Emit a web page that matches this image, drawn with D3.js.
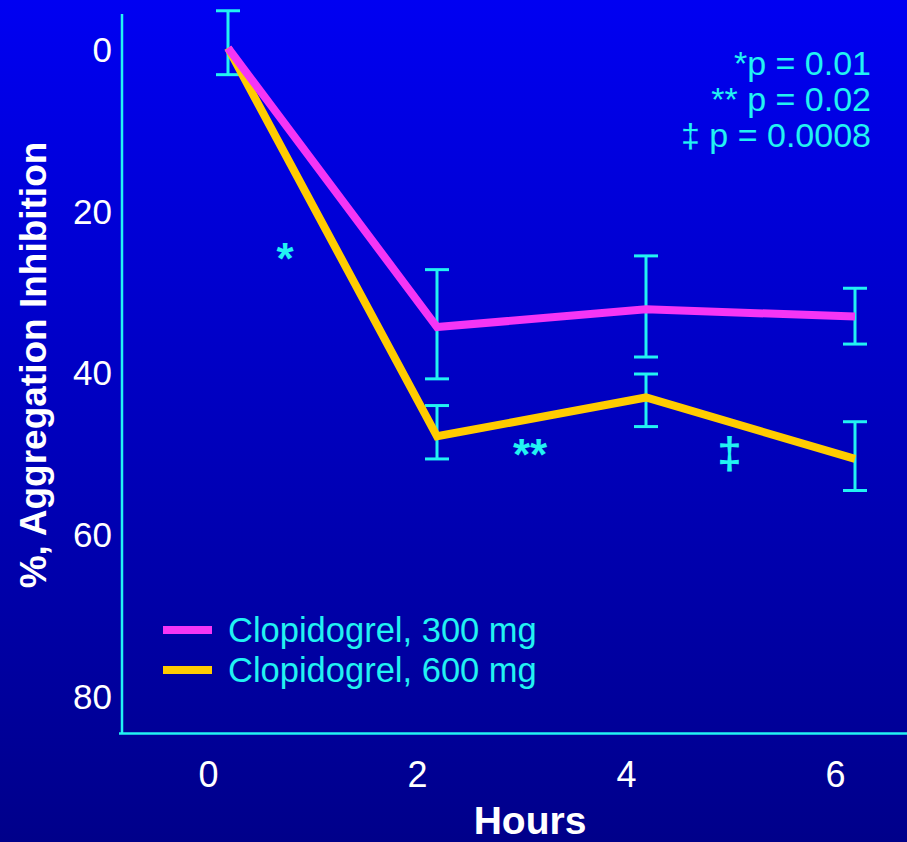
<!DOCTYPE html>
<html>
<head>
<meta charset="utf-8">
<script src="https://cdn.jsdelivr.net/npm/d3@7"></script>
<style>
  html, body { margin: 0; padding: 0; background: #00008c; }
  svg { display: block; font-family: "Liberation Sans", Arial, sans-serif; }
</style>
</head>
<body>
<svg id="chart" width="907" height="842"></svg>
<script>
// ---- data ----
const hours = [0, 2, 4, 6];
const dose300 = [0, 34.5, 32.3, 33.2];
const dose300Low = [-4.6, 27.4, 25.7, 29.7];
const dose300High = [3.3, 40.9, 38.2, 36.6];
const dose600 = [0, 48.0, 43.2, 50.8];
const dose600Low = [null, 44.2, 40.3, 46.2];
const dose600High = [null, 50.8, 46.8, 54.7];
const xTicks = [0, 2, 4, 6];
const yTicks = [0, 20, 40, 60, 80];
const seriesNames = ["Clopidogrel, 300 mg", "Clopidogrel, 600 mg"];
const pNotes = ["*p = 0.01", "** p = 0.02", "\u2021 p = 0.0008"];
const sigMarks = [{h: 0.545, v: 27.9, t: "*"}, {h: 2.89, v: 52.2, t: "**"}, {h: 4.80, v: 51.9, t: "\u2021"}];

const svg = d3.select("#chart");
const W = 907, H = 842;

// background gradient
const defs = svg.append("defs");
const grad = defs.append("linearGradient").attr("id", "bg").attr("x1", 0).attr("y1", 0).attr("x2", 0).attr("y2", 1);
grad.append("stop").attr("offset", "0%").attr("stop-color", "#0000f2");
grad.append("stop").attr("offset", "100%").attr("stop-color", "#00008a");
svg.append("rect").attr("width", W).attr("height", H).attr("fill", "url(#bg)");

const cyan = "#22f2f2";
const pink = "#f535f5";
const gold = "#ffcc00";

const x = d3.scaleLinear().domain([0, 6]).range([228, 855]);
const y = d3.scaleLinear().domain([-4.2, 84.8]).range([14, 734]);

// axes lines
svg.append("line").attr("x1", 122).attr("x2", 122).attr("y1", y(-4.2)).attr("y2", y(84.8))
  .attr("stroke", cyan).attr("stroke-width", 2.5);
svg.append("line").attr("x1", 119).attr("x2", W).attr("y1", 733.5).attr("y2", 733.5)
  .attr("stroke", cyan).attr("stroke-width", 2.5);

// y axis ticks
const yAxis = svg.append("g").attr("transform", "translate(122,0)")
  .call(d3.axisLeft(y).tickValues(yTicks).tickSize(0).tickPadding(10).tickFormat(d3.format("d")));
yAxis.select(".domain").remove();
yAxis.selectAll("text").attr("fill", "#ffffff").attr("font-size", 35)
  .attr("font-family", "Liberation Sans, Arial, sans-serif").attr("dy", "0.38em");

// x axis ticks
const xAxis = svg.append("g").attr("transform", "translate(0,733)")
  .call(d3.axisBottom(x).tickValues(xTicks).tickSize(0).tickPadding(28).tickFormat(d3.format("d")));
xAxis.select(".domain").remove();
xAxis.selectAll("text").attr("fill", "#ffffff").attr("font-size", 36)
  .attr("font-family", "Liberation Sans, Arial, sans-serif").attr("dx", -20);

// axis titles
svg.append("text").attr("x", 530).attr("y", 834).attr("text-anchor", "middle")
  .attr("fill", "#ffffff").attr("font-weight", "bold").attr("font-size", 39).text("Hours");
svg.append("text").attr("transform", "translate(46,365) rotate(-90)").attr("text-anchor", "middle")
  .attr("fill", "#ffffff").attr("font-weight", "bold").attr("font-size", 37).text("%, Aggregation Inhibition");

// error bars
function errBars(lo, hi) {
  const g = svg.append("g").attr("stroke", cyan).attr("stroke-width", 3).attr("fill", "none");
  hours.forEach((h, i) => {
    if (lo[i] == null) return;
    const cx = x(h);
    g.append("line").attr("x1", cx).attr("x2", cx).attr("y1", y(lo[i])).attr("y2", y(hi[i]));
    g.append("line").attr("x1", cx - 12).attr("x2", cx + 12).attr("y1", y(lo[i])).attr("y2", y(lo[i]));
    g.append("line").attr("x1", cx - 12).attr("x2", cx + 12).attr("y1", y(hi[i])).attr("y2", y(hi[i]));
  });
}
errBars(dose300Low, dose300High);
errBars(dose600Low, dose600High);

// lines
const line = d3.line().x((d, i) => x(hours[i])).y(d => y(d));
svg.append("path").datum(dose600).attr("d", line).attr("fill", "none")
  .attr("stroke", gold).attr("stroke-width", 8).attr("stroke-linejoin", "miter");
svg.append("path").datum(dose300).attr("d", line).attr("fill", "none")
  .attr("stroke", pink).attr("stroke-width", 8).attr("stroke-linejoin", "miter");

// significance marks
svg.selectAll(".sig").data(sigMarks).enter().append("text")
  .attr("x", d => x(d.h)).attr("y", d => y(d.v)).attr("text-anchor", "middle")
  .attr("fill", cyan).attr("font-weight", "bold").attr("font-size", 44).text(d => d.t);

// p-value notes
svg.selectAll(".pnote").data(pNotes).enter().append("text")
  .attr("x", 871).attr("y", (d, i) => 75 + i * 36).attr("text-anchor", "end")
  .attr("fill", cyan).attr("font-size", 34).text(d => d);

// legend
const legColors = [pink, gold];
const leg = svg.append("g");
seriesNames.forEach((n, i) => {
  const cy = 630 + i * 40;
  leg.append("line").attr("x1", 163).attr("x2", 212).attr("y1", cy).attr("y2", cy)
    .attr("stroke", legColors[i]).attr("stroke-width", 8);
  leg.append("text").attr("x", 228).attr("y", cy + 12).attr("fill", cyan)
    .attr("font-size", 34.5).text(n);
});
</script>
</body>
</html>
